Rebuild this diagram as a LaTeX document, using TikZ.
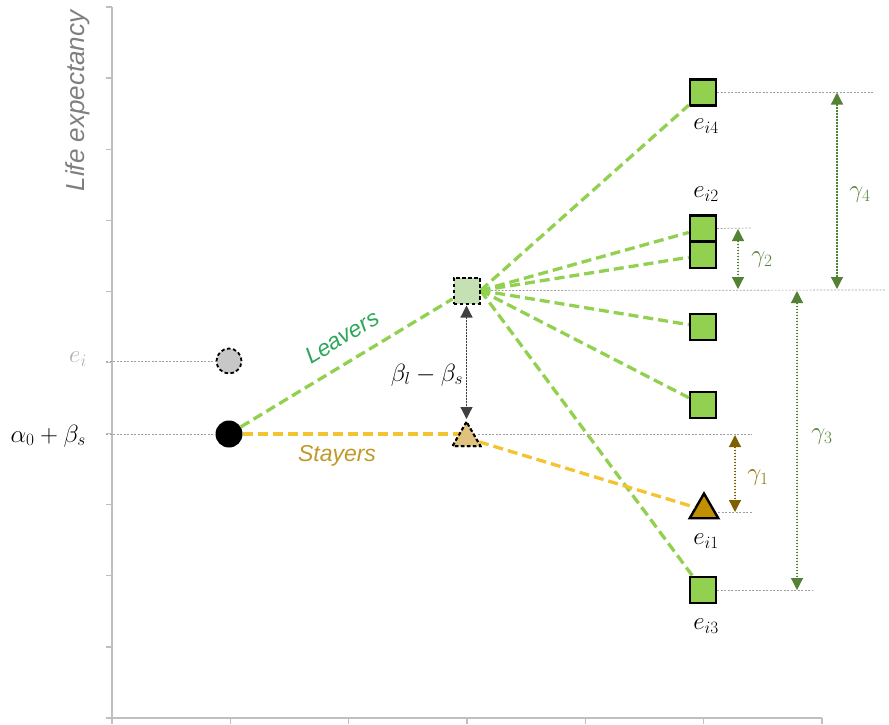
\documentclass[tikz,border=0pt]{standalone}
\usepackage{fontspec}
\setsansfont{Liberation Sans}
\usetikzlibrary{shapes.geometric,arrows.meta}
\definecolor{axisgray}{HTML}{BFBFBF}
\definecolor{leavegreen}{HTML}{92D050}
\definecolor{lightsq}{HTML}{C5E0B3}
\definecolor{tanfill}{HTML}{DFC27D}
\definecolor{goldfill}{HTML}{C09000}
\definecolor{stayyellow}{HTML}{F4C430}
\definecolor{gammagreen}{HTML}{548235}
\definecolor{gammabrown}{HTML}{7F6000}
\definecolor{leavertext}{HTML}{2EA65A}
\definecolor{stayertext}{HTML}{BF9A2A}
\definecolor{labelgray}{HTML}{7F7F7F}
\definecolor{eigray}{HTML}{B0B0B0}
\tikzset{
  leaveline/.style={draw=leavegreen,line width=3.3pt,dash pattern=on 10pt off 5pt},
  stayline/.style={draw=stayyellow,line width=3.3pt,dash pattern=on 10pt off 5pt},
  guide/.style={draw=gray!75,line width=0.7pt,dash pattern=on 2pt off 1.5pt},
  gsq/.style={rectangle,draw=black,line width=2.4pt,fill=leavegreen,minimum size=26pt,inner sep=0pt},
  midsq/.style={rectangle,draw=black,line width=2pt,dash pattern=on 3.5pt off 2.5pt,fill=lightsq,minimum size=26pt,inner sep=0pt},
  dimline/.style={line width=1.2pt,dash pattern=on 1.5pt off 1.5pt,{Triangle[width=12pt,length=12pt]}-{Triangle[width=12pt,length=12pt]}},
  mathlbl/.style={font=\fontsize{26}{30}\selectfont,inner sep=0pt},
  tickstyle/.style={draw=axisgray,line width=1.3pt}
}
\begin{document}
\begin{tikzpicture}[x=1pt,y=-1pt]
\useasboundingbox (0,0) rectangle (889,724);
% axes
\draw[axisgray,line width=1.8pt] (112,7) -- (112,718) -- (822,718);
\foreach \k in {0,...,10} {\draw[tickstyle] (106,{7+71.1*\k}) -- (112,{7+71.1*\k});}
\foreach \k in {0,...,6} {\draw[tickstyle] ({112+118.33*\k},718) -- ({112+118.33*\k},724);}
\node[rotate=90,font=\sffamily\itshape\fontsize{26}{30}\selectfont,text=labelgray] (ylab) at (78,101) {Life expectancy};

% nodes
\node[circle,draw=black,line width=1.8pt,dash pattern=on 3.5pt off 2.5pt,fill=black!22,minimum size=25pt,inner sep=0pt] (gc) at (229,361) {};
\node[circle,fill=black,minimum size=27pt,inner sep=0pt] (bc) at (229,434) {};
\node[midsq] (ms) at (466.5,290.5) {};
\node[regular polygon,regular polygon sides=3,draw=black,line width=2pt,dash pattern=on 3.5pt off 2.5pt,fill=tanfill,minimum size=32pt,inner sep=0pt] (mt) at (466.5,438) {};
\node[gsq] (s4) at (703,92.5) {};
\node[gsq] (s2a) at (703,228.5) {};
\node[gsq] (s2b) at (703,255) {};
\node[gsq] (s5) at (703,327) {};
\node[gsq] (s6) at (703,405) {};
\node[gsq] (s3) at (703,590) {};
\node[regular polygon,regular polygon sides=3,draw=black,line width=2.4pt,fill=goldfill,minimum size=33pt,inner sep=0pt] (ei1) at (704,510) {};

% guide lines
\coordinate (gl1) at (106,361);
\coordinate (gl2) at (106,434);
\draw[guide] (gl1) -- (gc.west);
\draw[guide] (gl2) -- (bc.west);
\coordinate (r4) at (873,92.5);
\coordinate (r0) at (885,290);
\coordinate (r2) at (752,228);
\coordinate (r3) at (812,590);
\coordinate (m0) at (478,434);
\coordinate (r1a) at (752,434);
\coordinate (e1r) at (718,512);
\coordinate (r1b) at (752,512);
\draw[guide] (s4.east) -- (r4);
\draw[guide] (ms.east) -- (r0);
\draw[guide] (s2a.east) -- (r2);
\draw[guide] (s3.east) -- (r3);
\draw[guide] (m0) -- (r1a);
\draw[guide] (e1r) -- (r1b);

% connectors
\draw[leaveline] (bc) -- (ms);
\draw[leaveline] (ms.east) -- (s4);
\draw[leaveline] (ms.east) -- (s2a);
\draw[leaveline] (ms.east) -- (s2b);
\draw[leaveline] (ms.east) -- (s5);
\draw[leaveline] (ms.east) -- (s6);
\draw[leaveline] (ms.east) -- (s3);
\draw[stayline,shorten >=8pt] (bc.east) -- (bc -| mt);
\draw[stayline] (mt) -- (ei1);

% redraw shapes on top
\node[gsq] at (s2a) {};
\node[gsq] at (s2b) {};
\node[midsq] at (ms) {};
\node[regular polygon,regular polygon sides=3,draw=black,line width=2pt,dash pattern=on 3.5pt off 2.5pt,fill=tanfill,minimum size=32pt,inner sep=0pt] at (mt) {};

% beta arrow
\draw[dimline,draw=black!75,fill=black!75,shorten >=1pt,shorten <=1pt] (ms.south) -- (mt.north);

% gamma dimension arrows
\coordinate (g4t) at (837,92.5);
\coordinate (g4b) at (837,289);
\coordinate (g2t) at (738,229);
\coordinate (g2b) at (738,289);
\coordinate (g3t) at (797,291);
\coordinate (g3b) at (797,590);
\coordinate (g1t) at (735,435);
\coordinate (g1b) at (735,512);
\draw[dimline,draw=gammagreen,fill=gammagreen] (g4t) -- (g4b);
\draw[dimline,draw=gammagreen,fill=gammagreen] (g2t) -- (g2b);
\draw[dimline,draw=gammagreen,fill=gammagreen] (g3t) -- (g3b);
\draw[dimline,draw=gammabrown,fill=gammabrown] (g1t) -- (g1b);

% labels
\node[mathlbl,text=eigray,anchor=east] (lei) at (87,359) {$e_i$};
\node[mathlbl,anchor=east] (lab) at (86,436) {$\alpha_0+\beta_s$};
\node[mathlbl] (lbeta) at (427,375) {$\beta_l-\beta_s$};
\node[mathlbl] (l4) at (706,126) {$e_{i4}$};
\node[mathlbl] (l2) at (706,194) {$e_{i2}$};
\node[mathlbl] (l1) at (706,541) {$e_{i1}$};
\node[mathlbl] (l3) at (706,626) {$e_{i3}$};
\node[mathlbl,text=gammagreen] (lg4) at (860,195) {$\gamma_4$};
\node[mathlbl,text=gammagreen] (lg2) at (762,260) {$\gamma_2$};
\node[mathlbl,text=gammagreen] (lg3) at (822,437) {$\gamma_3$};
\node[mathlbl,text=gammabrown!90!yellow] (lg1) at (758,478) {$\gamma_1$};
\node[rotate=31.4,font=\sffamily\itshape\fontsize{23}{27}\selectfont,text=leavertext] (leav) at (342,337) {Leavers};
\node[font=\sffamily\itshape\fontsize{23}{27}\selectfont,text=stayertext] (stay) at (337,456) {Stayers};
\end{tikzpicture}
\end{document}
